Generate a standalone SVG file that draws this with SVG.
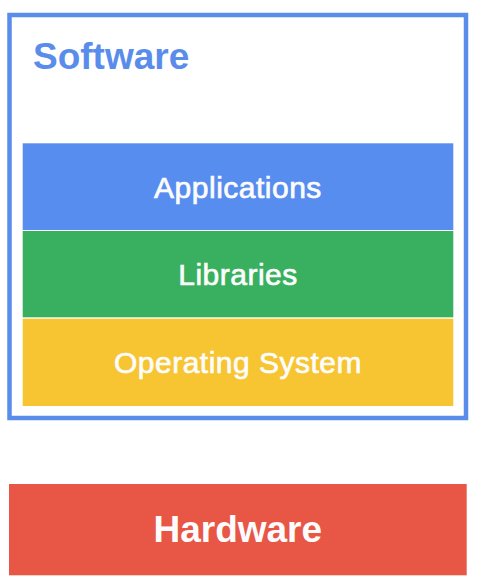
<svg xmlns="http://www.w3.org/2000/svg" width="491" height="587" viewBox="0 0 491 587">
  <style>
    .label { font-family: "Liberation Sans", Arial, sans-serif; fill: #FCFCFC; text-anchor: middle; }
    .layer { font-size: 30px; letter-spacing: 0.5px; stroke: #FCFCFC; stroke-width: 0.7px; }
    .title { font-size: 37px; font-weight: bold; }
  </style>
  <rect width="491" height="587" fill="#FFFFFF"/>

  <!-- Software container -->
  <g id="software">
    <rect x="9.5" y="15" width="456.5" height="403" fill="#FFFFFF" stroke="#5A8DEA" stroke-width="4.5"/>
    <text x="33" y="69" font-family="Liberation Sans, Arial, sans-serif" font-size="37" font-weight="bold" fill="#5A8DEB">Software</text>
  </g>

  <!-- Software stack layers -->
  <g id="applications">
    <rect x="22.7" y="143.3" width="430.6" height="86.7" fill="#578DEF"/>
    <text class="label layer" x="238" y="197.5">Applications</text>
  </g>
  <g id="libraries">
    <rect x="22.7" y="231" width="430.6" height="86.3" fill="#38B05F"/>
    <text class="label layer" x="238" y="284.7">Libraries</text>
  </g>
  <g id="operating-system">
    <rect x="22.7" y="318.7" width="430.6" height="87.3" fill="#F7C531"/>
    <text class="label layer" x="238" y="372.5">Operating System</text>
  </g>

  <!-- Hardware block -->
  <g id="hardware">
    <rect x="9" y="484" width="457.7" height="91.3" fill="#E85646"/>
    <text class="label title" x="237.8" y="541.7">Hardware</text>
  </g>
</svg>
